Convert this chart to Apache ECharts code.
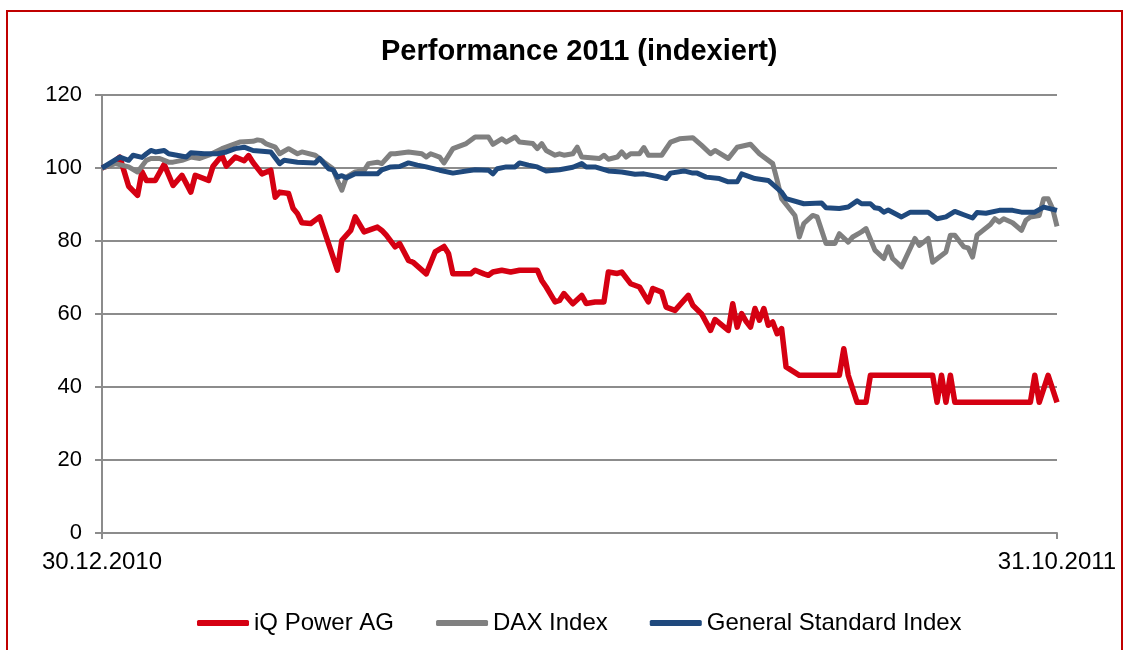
<!DOCTYPE html>
<html>
<head>
<meta charset="utf-8">
<script src="https://cdn.jsdelivr.net/npm/echarts@6/dist/echarts.min.js"></script>
<style>
  body { margin: 0; background: #fff; }
  #main { width: 1128px; height: 650px; }
  #frame { position: absolute; left: 6px; top: 10px; width: 1113px; height: 700px; border: 2px solid #c00000; pointer-events: none; }
</style>
</head>
<body>
<div id="main"></div>
<div id="frame"></div>
<script>
// trading day index (0 = 30.12.2010, 215 = 31.10.2011) and indexed value
var xLabels = ["30.12.2010", "31.10.2011"];
var lastDay = 215;
var yTicks = [0, 20, 40, 60, 80, 100, 120];

var iqDays = [0,2,4,5,6,8,9,10,12,14,16,18,20,21,24,25,27,28,30,32,33,34,36,38,39,40,42,43,44,45,47,49,51,53,54,56,57,59,62,63,64,66,67,69,70,73,75,77,78,79,83,84,86,87,88,90,92,94,98,99,100,102,103,104,106,108,109,111,113,114,116,117,119,121,123,124,126,127,129,132,133,135,137,138,141,142,143,144,145,146,147,148,149,150,151,152,153,154,157,166,167,168,170,172,173,187,188,189,190,191,192,209,210,211,213,215];
var iqVals = [100,101,103,99,95,92.5,99,96.6,96.6,101,95.2,98,93.4,98,96.6,100.5,103.4,100.5,103,102,103.4,101.5,98.4,99.4,92,93.4,93,89,87.5,85,84.8,86.6,79.3,72,80.2,82.9,86.6,82.5,83.8,82.9,81.6,78.4,79.3,74.7,74.2,71,77,78.5,76.6,71,71,72,71,70.6,71.5,72,71.5,72,72,69.2,67.4,63.3,63.7,65.6,62.8,65.1,62.9,63.3,63.3,71.5,71.1,71.5,68.3,67.4,63.3,67,66,61.9,61,65.1,62.4,60,55.5,58.5,55.5,62.8,56.4,60.1,58,56.4,61.5,58.3,61.5,56.9,57.8,54.6,56,45.5,43.2,43.2,50.5,43.2,35.8,35.8,43.2,43.2,35.8,43.2,35.8,43.2,35.8,35.8,43.2,35.8,43.2,35.8];

var daxDays = [0,3,6,8,10,11,13,15,16,18,20,22,24,27,29,31,34,35,36,37,39,40,42,44,45,48,50,52,53,54,55,57,59,60,62,63,65,66,69,72,73,74,76,77,79,82,84,87,88,90,91,93,94,97,98,99,100,102,103,104,106,107,108,112,113,114,116,117,118,119,121,122,123,126,128,130,133,135,137,138,141,143,146,148,151,152,153,156,157,158,160,161,163,165,166,168,169,171,172,173,174,176,177,178,180,183,184,185,186,187,190,191,192,194,195,196,197,200,201,202,203,205,207,208,209,211,212,213,214,215];
var daxVals = [100,101.2,100.3,98.9,102.1,102.6,102.6,101.6,101.6,102.1,103,102.6,103.5,105.3,106.2,107.1,107.3,107.7,107.5,106.6,105.7,103.9,105.3,103.9,104.4,103.5,101.6,99.8,96.6,93.9,97.5,98.9,99.3,101.2,101.6,101.2,103.9,103.9,104.4,103.9,103,103.9,103,101.4,105.3,106.7,108.5,108.5,106.5,108,107.1,108.5,107.1,106.7,105.3,106.7,104.8,103.5,103.9,103.5,103.9,105.7,103,102.6,103.5,102.4,103,104.4,103,103.9,103.9,105.6,103.5,103.5,107.1,108,108.3,106.2,103.9,104.8,102.6,105.7,106.5,103.9,101.2,96.6,91.6,87,81.1,84.8,87,86.6,79.3,79.3,82,79.7,81.1,82.5,83.4,80.5,77.5,75.2,78.4,75.2,72.9,80.7,78.8,79.7,80.7,74.2,77,81.6,81.6,78.4,78.1,75.6,81.6,84.5,86.1,85.2,86.1,85,82.9,85.7,86.6,87,91.6,91.6,88.9,84];

var gsDays = [0,4,6,7,9,10,11,12,14,15,19,20,23,26,28,30,32,34,36,38,40,41,44,48,49,50,51,52,53,54,55,57,62,63,65,67,69,71,73,76,79,82,84,87,88,89,91,93,94,96,98,100,103,106,108,109,111,114,117,120,122,125,127,128,131,133,134,136,139,141,143,144,147,150,153,154,158,162,163,166,168,170,171,173,174,175,176,177,180,182,186,188,190,192,194,196,197,199,202,205,207,210,212,215];
var gsVals = [100,103,102.1,103.5,102.9,103.9,104.8,104.4,104.8,103.9,103,104.2,103.9,103.9,104.4,105.3,105.7,104.8,104.6,104.4,101.2,102.1,101.6,101.4,102.6,101.2,99.8,99.5,97.5,97.9,97.3,98.4,98.4,99.5,100.3,100.4,101.4,100.8,100.3,99.4,98.6,99.2,99.5,99.4,98.4,99.8,100.3,100.3,101.4,100.8,100.3,99.2,99.5,100.2,101.2,100.3,100.3,99.2,98.9,98.3,98.4,97.7,97.1,98.6,99.2,98.6,98.6,97.5,97.1,96.2,96.2,98.4,97.1,96.6,93.4,91.6,90.2,90.4,89.1,88.9,89.3,91,90.2,90.2,89.1,88.9,87.9,88.5,86.6,87.9,87.9,86.1,86.6,88.1,87.2,86.3,87.8,87.6,88.4,88.4,87.9,87.9,89.3,88.4];

function pairs(days, vals) {
  return days.map(function (d, i) { return [d, vals[i]]; });
}

var font = "'Liberation Sans', Arial, sans-serif";
var gridGrey = "#8c8c8c";

var myChart = echarts.init(document.getElementById("main"));
myChart.setOption({
  animation: false,
  title: {
    text: "Performance 2011 (indexiert)",
    left: 376,
    top: 32,
    textStyle: { fontFamily: font, fontSize: 29, fontWeight: "bold", color: "#000" }
  },
  legend: {
    left: 192,
    top: 606,
    icon: "roundRect",
    itemWidth: 52,
    itemHeight: 6,
    itemGap: 42,
    textStyle: { fontFamily: font, fontSize: 24, color: "#000" },
    data: ["iQ Power AG", "DAX Index", "General Standard Index"]
  },
  grid: { left: 102, right: 71, top: 95, bottom: 117, outerBoundsMode: "none" },
  xAxis: {
    type: "value",
    min: 0,
    max: lastDay,
    interval: lastDay,
    axisLine: { show: true, lineStyle: { color: gridGrey, width: 2 } },
    axisTick: { show: true, length: 6, lineStyle: { color: gridGrey, width: 2 } },
    splitLine: { show: false },
    axisLabel: {
      margin: 17,
      fontFamily: font,
      fontSize: 24,
      color: "#000",
      formatter: function (v) {
        if (v === 0) return xLabels[0];
        if (v === lastDay) return xLabels[1];
        return "";
      }
    }
  },
  yAxis: {
    type: "value",
    min: yTicks[0],
    max: yTicks[yTicks.length - 1],
    interval: yTicks[1] - yTicks[0],
    axisLine: { show: true, lineStyle: { color: gridGrey, width: 2 } },
    axisTick: { show: true, length: 7, lineStyle: { color: gridGrey, width: 2 } },
    splitLine: { show: true, lineStyle: { color: gridGrey, width: 2 } },
    axisLabel: { margin: 20, fontFamily: font, fontSize: 22, color: "#000" }
  },
  series: [
    {
      name: "iQ Power AG",
      type: "line",
      data: pairs(iqDays, iqVals),
      showSymbol: false,
      color: "#d50012",
      lineStyle: { width: 5.5, join: "round" }
    },
    {
      name: "DAX Index",
      type: "line",
      data: pairs(daxDays, daxVals),
      showSymbol: false,
      color: "#808080",
      lineStyle: { width: 5, join: "round" }
    },
    {
      name: "General Standard Index",
      type: "line",
      data: pairs(gsDays, gsVals),
      showSymbol: false,
      color: "#1f497d",
      lineStyle: { width: 5, join: "round" }
    }
  ]
});
</script>
</body>
</html>
